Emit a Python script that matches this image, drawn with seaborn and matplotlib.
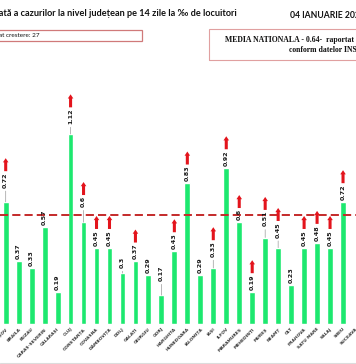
import numpy as np
import pandas as pd
import matplotlib
matplotlib.use("Agg")
import matplotlib.pyplot as plt
from matplotlib.patches import Rectangle
from matplotlib.lines import Line2D
import seaborn as sns

# date (incidenta la 14 zile, la mie locuitori)
counties = ["BRAȘOV", "BRĂILA", "BUZĂU", "CARAȘ-SEVERIN", "CĂLĂRAȘI", "CLUJ",
            "CONSTANȚA", "COVASNA", "DÂMBOVIȚA", "DOLJ", "GALAȚI", "GIURGIU",
            "GORJ", "HARGHITA", "HUNEDOARA", "IALOMIȚA", "IAȘI", "ILFOV",
            "MARAMUREȘ", "MEHEDINȚI", "MUREȘ", "NEAMȚ", "OLT", "PRAHOVA",
            "SATU MARE", "SĂLAJ", "SIBIU", "SUCEAVA"]
incidence = [0.72, 0.37, 0.33, 0.57, 0.19, 1.12, 0.6, 0.45, 0.45, 0.3, 0.37,
             0.29, 0.17, 0.43, 0.83, 0.29, 0.33, 0.92, 0.6, 0.19, 0.51, 0.45,
             0.23, 0.45, 0.48, 0.45, 0.72, np.nan]
rising = ["BRAȘOV", "CLUJ", "CONSTANȚA", "COVASNA", "DÂMBOVIȚA", "GALAȚI",
          "HARGHITA", "HUNEDOARA", "IAȘI", "ILFOV", "MARAMUREȘ", "MEHEDINȚI",
          "MUREȘ", "NEAMȚ", "PRAHOVA", "SATU MARE", "SĂLAJ", "SIBIU"]
national_avg = 0.64
rising_count = 27

title = "Rata de incidență cumulată a cazurilor la nivel județean pe 14 zile la ‰ de locuitori"
date_text = "04 IANUARIE 2021"

# etichete ridicate (cu linie de legatura), in pixeli
lift_px = {"BRAȘOV": 12, "CLUJ": 8, "CONSTANȚA": 13, "GORJ": 12, "IAȘI": 9,
           "MUREȘ": 9, "NEAMȚ": 8, "DOLJ": 3}

green = "#1de86f"
red = "#e3141c"

sns.set_theme(style="white")

W, H = 356, 364
fig = plt.figure(figsize=(W / 100, H / 100), dpi=100)
base_px = 40
ax = fig.add_axes([0, base_px / H, 1, 1 - base_px / H])
ax.patch.set_alpha(0)

df = pd.DataFrame({"judet": counties, "val": incidence})
sns.barplot(data=df, x="judet", y="val", order=counties, color=green,
            saturation=1, width=0.45, ax=ax)

pitch, x0 = 13.2, 5.8
ax.set_xlim(-x0 / pitch, (W - x0) / pitch)
ax.set_ylim(0, (H - base_px) / 169.6)
for s in ax.spines.values():
    s.set_visible(False)
ax.set_yticks([])
ax.set_xlabel("")
ax.set_ylabel("")
ax.tick_params(axis="x", length=0, pad=2)
ax.set_xticks(range(len(counties)))
ax.set_xticklabels(counties, rotation=45, ha="right", rotation_mode="anchor",
                   fontsize=3.2, fontweight="bold", color="#3a3a3a")

ax.axhline(national_avg, color="#c42a2a", lw=1.4, ls=(0, (4.2, 2.1)), zorder=3)

labels = {}
for i, (name, v) in enumerate(zip(counties, incidence)):
    if np.isnan(v):
        continue
    lift = lift_px.get(name, 0) * 0.72
    kw = {}
    if lift > 0:
        kw["arrowprops"] = dict(arrowstyle="-", color="#9a9a9a", lw=0.5,
                                shrinkA=0, shrinkB=0)
    labels[name] = ax.annotate(f"{v:g}", xy=(i, v), xytext=(0, 1.5 + lift),
                               textcoords="offset points", rotation=90,
                               ha="center", va="bottom", fontsize=4.6,
                               fontweight="bold", color="#1a1a1a", zorder=4, **kw)

fig.canvas.draw()
renderer = fig.canvas.get_renderer()
for name in rising:
    t = labels[name]
    bb = t.get_window_extent(renderer)
    xc = (bb.x0 + bb.x1) / 2
    ax.annotate("", xy=(xc, bb.y1 + 14), xytext=(xc, bb.y1 + 1),
                xycoords="figure pixels", textcoords="figure pixels",
                arrowprops=dict(arrowstyle="simple,head_width=4,head_length=3,tail_width=2.2",
                                mutation_scale=1, color=red, shrinkA=0, shrinkB=0,
                                lw=0), zorder=5)

# titlu si casete
fig.text(237 / W, 1 - 13 / H, title, ha="right", va="center", fontsize=6.6,
         fontweight="bold", family="Lato", color="#111111")
fig.text(290 / W, 1 - 15 / H, date_text, ha="left", va="center", fontsize=6.2,
         fontweight="bold", family="Lato", color="#111111")

fig.add_artist(Rectangle((-40 / W, 1 - 41 / H), 182 / W, 11 / H,
                         transform=fig.transFigure, fill=False,
                         edgecolor="#d07a7a", lw=0.9))
fig.text(40 / W, 1 - 35.5 / H, f"Judete in care s-a inregistrat crestere: {rising_count}",
         ha="right", va="center", fontsize=4.6, family="Lato", color="#111111")

fig.add_artist(Rectangle((209 / W, 1 - 60 / H), 180 / W, 31 / H,
                         transform=fig.transFigure, fill=False,
                         edgecolor="#e0a0a0", lw=0.8))
fig.text(225 / W, 1 - 40 / H, "MEDIA NATIONALA - 0.64-  raportat la populatia",
         ha="left", va="center", fontsize=5.6, fontweight="bold",
         family="Liberation Serif", color="#111111")
fig.text(289 / W, 1 - 50 / H, "conform datelor INS",
         ha="left", va="center", fontsize=5.6, fontweight="bold",
         family="Liberation Serif", color="#111111")

fig.add_artist(Line2D([0, 1], [1.5 / H, 1.5 / H], transform=fig.transFigure,
                      color="#dcdcdc", lw=0.8))

fig.savefig("out.png", dpi=100)
